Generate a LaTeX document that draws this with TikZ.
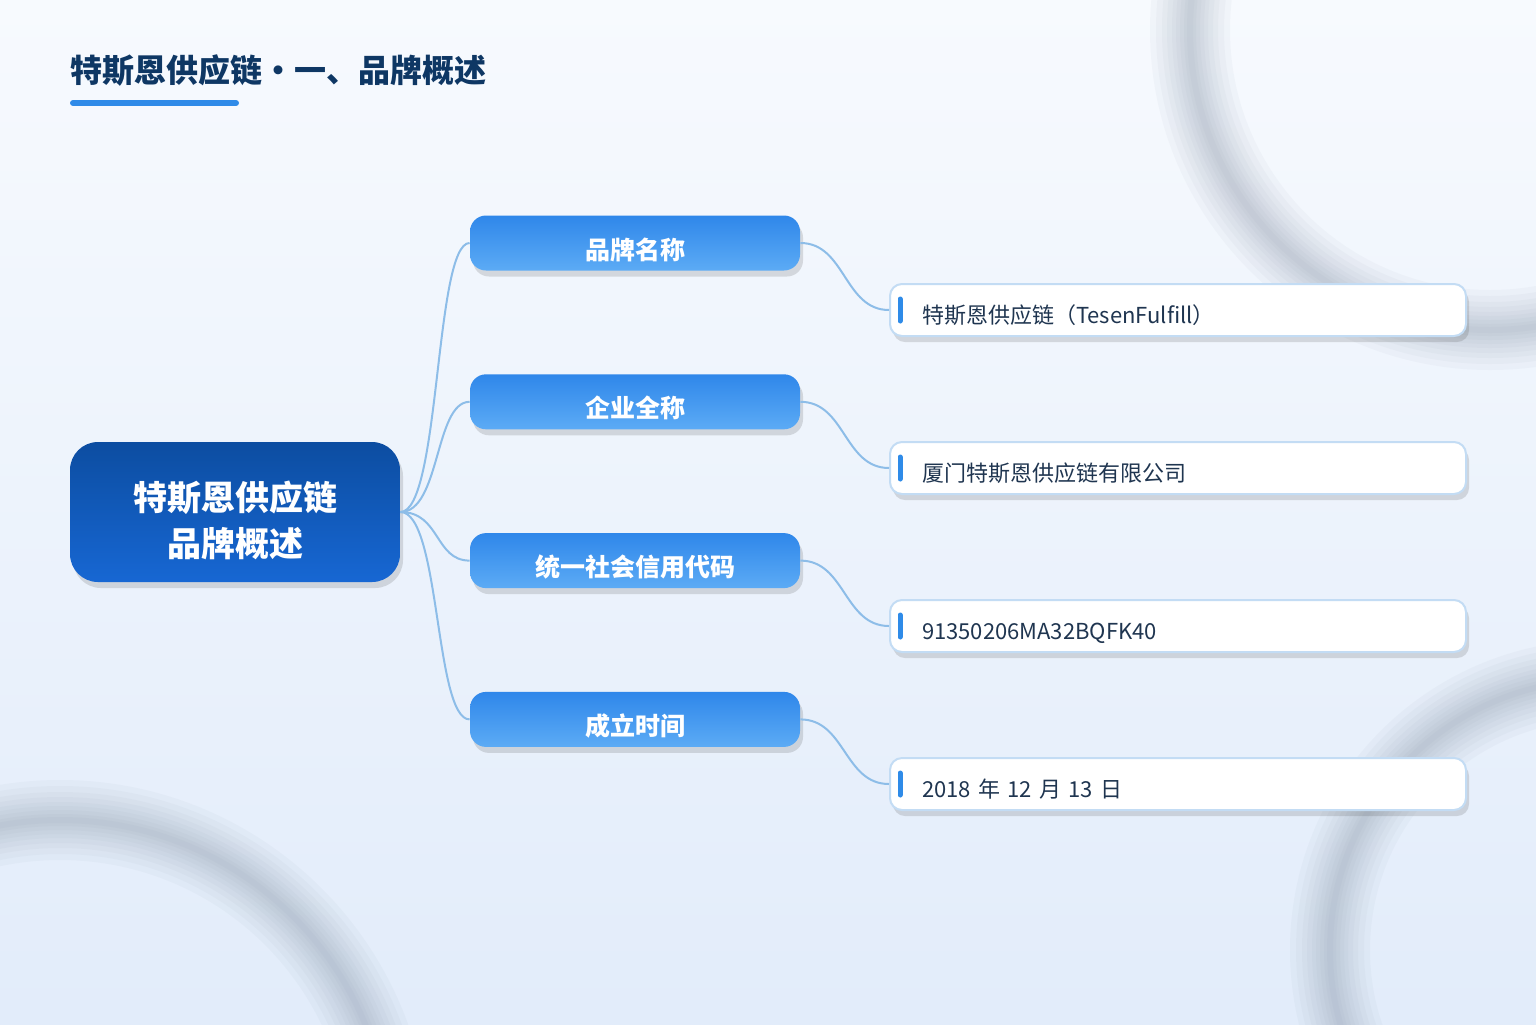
\documentclass[tikz,border=0pt]{standalone}
\usepackage{fontspec}
\setmainfont{Noto Sans CJK SC}
\usetikzlibrary{shapes, shadows, positioning}

\definecolor{bgTop}{HTML}{F7FAFE}
\definecolor{bgBot}{HTML}{E2ECFA}
\definecolor{ringGray}{HTML}{7F8DA1}
\definecolor{titleBlue}{HTML}{0E3764}
\definecolor{barBlue}{HTML}{2F8BE8}
\definecolor{rootTop}{HTML}{0C4DA1}
\definecolor{rootBot}{HTML}{1767D3}
\definecolor{branchTop}{HTML}{2F87EA}
\definecolor{branchBot}{HTML}{5CABF5}
\definecolor{linkBlue}{HTML}{8DBDE8}
\definecolor{leafLine}{HTML}{C3DCF4}
\definecolor{leafText}{HTML}{1F3550}

\begin{document}
\begin{tikzpicture}[x=0.5pt, y=-0.5pt,
  softshadow/.style={drop shadow={shadow xshift=1.5pt, shadow yshift=-3pt, opacity=.18, fill=black!70}},
  root/.style={softshadow, rounded corners=14pt, minimum width=165pt, minimum height=70pt,
    top color=rootTop, bottom color=rootBot, text=white, align=center,
    text height=44pt, text depth=0pt,
    font=\fontsize{17pt}{23pt}\selectfont\bfseries},
  branch/.style={softshadow, rounded corners=8pt, minimum width=165pt, minimum height=27.5pt,
    top color=branchTop, bottom color=branchBot, text=white,
    text height=16pt, text depth=0pt,
    font=\fontsize{12.5pt}{15pt}\selectfont\bfseries},
  leaf/.style={softshadow, rounded corners=6pt, draw=leafLine, line width=1pt, fill=white,
    minimum height=26pt, text width=256pt, inner xsep=16pt, align=left, text=leafText,
    text height=13.4pt, text depth=0pt,
    font=\fontsize{11pt}{13pt}\selectfont},
  link/.style={draw=linkBlue, line width=1pt},
  ring/.style={draw=ringGray, opacity=.05}]

  % background
  \shade[top color=bgTop, bottom color=bgBot] (0,0) rectangle (1536,1024);
  \begin{scope}
    \clip (0,0) rectangle (1536,1024);
    \foreach \w in {40pt,34pt,28pt,23pt,18pt,14pt,10pt,6pt,3pt}{
      \draw[ring, line width=\w] (1490,30) circle[radius=300];
      \draw[ring, line width=\w] (60,1150) circle[radius=330];
      \draw[ring, line width=\w] (1600,950) circle[radius=270];
    }
  \end{scope}

  % title
  \node[anchor=base west, inner sep=0, text=titleBlue, font=\fontsize{16pt}{20pt}\selectfont\bfseries]
    (title) at (70,82) {特斯恩供应链・一、品牌概述};
  \draw[barBlue, line width=3pt, line cap=round] (73,103) -- (236,103);

  % mind map
  \node[root] (root) at (235,512) {特斯恩供应链\\品牌概述};

  \node[branch] (name) at (635,243) {品牌名称};
  \node[branch, below=51.5pt of name] (full) {企业全称};
  \node[branch, below=51.5pt of full] (code) {统一社会信用代码};
  \node[branch, below=51.5pt of code] (date) {成立时间};

  \node[leaf] (nameV) at (1178,310) {特斯恩供应链（TesenFulfill）};
  \node[leaf] (fullV) at (1178,468) {厦门特斯恩供应链有限公司};
  \node[leaf] (codeV) at (1178,626) {91350206MA32BQFK40};
  \node[leaf] (dateV) at (1178,784) {2018 年 12 月 13 日};

  \foreach \b in {name, full, code, date}{
    \draw[link] (root.east) .. controls +(40,0) and +(-35,0) .. (\b.west);
    \draw[link] (\b.east) .. controls +(45,0) and +(-45,0) .. (\b V.west);
    \draw[barBlue, line width=2.5pt, line cap=round]
      ([xshift=5.5pt, yshift=5.5pt]\b V.west) -- ([xshift=5.5pt, yshift=-5.5pt]\b V.west);
  }
\end{tikzpicture}
\end{document}
